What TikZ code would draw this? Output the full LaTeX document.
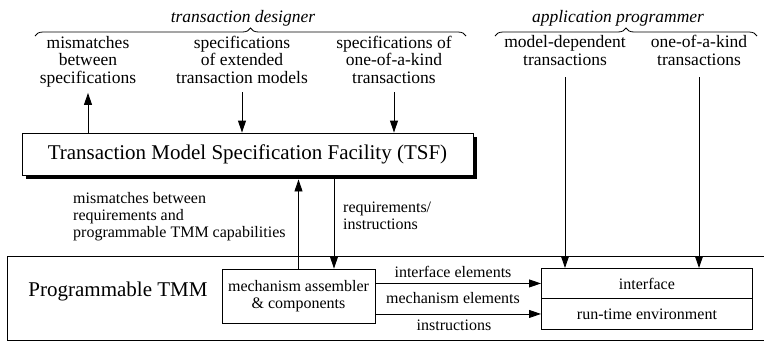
\documentclass[tikz,border=0pt]{standalone}
\usepackage{fontspec}
\setmainfont{Liberation Serif}
\usetikzlibrary{arrows.meta,decorations.pathreplacing}
\begin{document}
\begin{tikzpicture}[x=1pt,y=-1pt,
  lbl/.style={inner sep=0pt, font=\fontsize{17.5}{17.5}\selectfont, align=center},
  sml/.style={inner sep=0pt, font=\fontsize{16}{17}\selectfont},
  big/.style={font=\fontsize{21}{24}\selectfont},
  arr/.style={-{Triangle[length=12pt,width=8pt]}, line width=0.9pt},
  box/.style={draw, line width=0.9pt},
  curly/.style={decorate, decoration={brace, amplitude=8pt}, line width=0.8pt}]
\useasboundingbox (0,0) rectangle (764,341);
\clip (0,0) rectangle (764,341);

% roles and their inputs
\node[lbl, anchor=base] (des) at (243,22) {\itshape transaction designer};
\node[lbl, anchor=base] (mis) at (88,83) {mismatches\\between\\specifications};
\node[lbl, anchor=base] (ext) at (242,83) {specifications\\of extended\\transaction models};
\node[lbl, anchor=base] (one) at (394,83) {specifications of\\one-of-a-kind\\transactions};
\node[lbl, anchor=base] (app) at (618,22) {\itshape application programmer};
\node[lbl, anchor=base] (mdt) at (565,65) {model-dependent\\transactions};
\node[lbl, anchor=base] (okt) at (699,65) {one-of-a-kind\\transactions};
\draw[curly] (35,36) -- (466,36);
\draw[curly] (495,36) -- (757,36);

% specification facility with drop shadow
\fill (26,137) rectangle (477,179);
\node[box, fill=white, big, minimum width=451pt, minimum height=42pt, inner sep=0pt] (tsf) at (247.5,154)
  {Transaction Model Specification Facility (TSF)};

% programmable TMM
\node[box, minimum width=780pt, minimum height=84pt, anchor=north west, inner sep=0pt] (ptmm) at (7,256) {};
\node[big, anchor=base, inner sep=0pt] (ptl) at (118,296) {Programmable TMM};
\node[box, sml, align=center, minimum width=153pt, minimum height=54pt] (mech) at (298.5,296)
  {mechanism assembler\\\& components};
\node[box, sml, minimum width=211pt, minimum height=30pt, anchor=north west] (iface) at (541,268) {interface};
\node[box, sml, minimum width=211pt, minimum height=31pt, anchor=north west] (rte) at (541,298) {run-time environment};

% connector labels
\node[sml, align=left, anchor=base west] (mm) at (73,237)
  {mismatches between\\requirements and\\programmable TMM capabilities};
\node[sml, align=left, anchor=base west] (ri) at (343,229) {requirements/\\instructions};
\node[sml, anchor=base] (ie) at (453,277) {interface elements};
\node[sml, anchor=base] (me) at (453,303) {mechanism elements};
\node[sml, anchor=base] (ins) at (454,330) {instructions};

% connectors
\draw[arr, shorten >=6pt] (tsf.north -| mis) -- (mis.south);
\draw[arr, shorten <=9pt] (ext.south) -- (tsf.north -| ext);
\draw[arr, shorten <=9pt] (one.south) -- (tsf.north -| one);
\draw[arr, shorten <=12pt] (mdt.south) -- (iface.north -| mdt);
\draw[arr, shorten <=12pt] (okt.south) -- (iface.north -| okt);
\draw[arr] (mech.north) -- ([yshift=-4pt]tsf.south -| mech.north);
\draw[arr] ([xshift=35.5pt,yshift=-4pt]tsf.south -| mech.north) -- ([xshift=35.5pt]mech.north);
\draw[arr] (mech.east |- iface.west) -- (iface.west);
\draw[arr] (mech.east |- rte.west) -- (rte.west);
\end{tikzpicture}
\end{document}
